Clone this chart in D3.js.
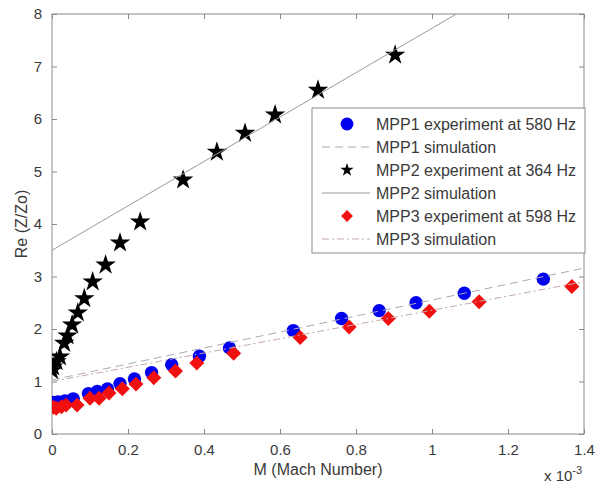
<!DOCTYPE html>
<html>
<head>
<meta charset="utf-8">
<script src="https://cdn.jsdelivr.net/npm/d3@7"></script>
<style>
  html, body { margin: 0; padding: 0; background: #fff; }
  svg { display: block; font-family: "Liberation Sans", Arial, sans-serif; }
</style>
</head>
<body>
<div id="chart"></div>
<script>
// Mach number values are in units of 1e-3
const mpp1M = [0.003, 0.016, 0.034, 0.056, 0.096, 0.119, 0.146, 0.179, 0.217, 0.262, 0.315, 0.388, 0.467, 0.635, 0.762, 0.861, 0.958, 1.085, 1.293];
const mpp1Re = [0.60, 0.61, 0.63, 0.67, 0.77, 0.81, 0.86, 0.96, 1.05, 1.17, 1.32, 1.48, 1.64, 1.97, 2.20, 2.35, 2.50, 2.68, 2.95];

const mpp2M = [0.0, 0.003, 0.012, 0.021, 0.032, 0.041, 0.053, 0.068, 0.085, 0.107, 0.141, 0.179, 0.232, 0.345, 0.434, 0.508, 0.587, 0.700, 0.903];
const mpp2Re = [1.21, 1.28, 1.38, 1.47, 1.73, 1.87, 2.08, 2.31, 2.58, 2.90, 3.22, 3.64, 4.04, 4.84, 5.37, 5.73, 6.08, 6.55, 7.22];

const mpp3M = [0.004, 0.011, 0.025, 0.037, 0.066, 0.100, 0.124, 0.150, 0.185, 0.221, 0.268, 0.325, 0.381, 0.478, 0.653, 0.782, 0.885, 0.993, 1.124, 1.368];
const mpp3Re = [0.51, 0.49, 0.52, 0.55, 0.55, 0.68, 0.68, 0.78, 0.86, 0.95, 1.07, 1.20, 1.35, 1.54, 1.84, 2.04, 2.20, 2.34, 2.52, 2.81];

// simulation lines (end points)
const simM = [0, 1.4];
const mpp1SimRe = [1.03, 3.16];
const mpp2SimRe = [3.5, 9.42];
const mpp3SimRe = [1.0, 2.9];

const xTicks = [0, 0.2, 0.4, 0.6, 0.8, 1, 1.2, 1.4];
const yTicks = [0, 1, 2, 3, 4, 5, 6, 7, 8];

const legendLabels = [
  "MPP1 experiment at 580 Hz",
  "MPP1 simulation",
  "MPP2 experiment at 364 Hz",
  "MPP2 simulation",
  "MPP3 experiment at 598 Hz",
  "MPP3 simulation"
];

const W = 595, H = 486;
const margin = { top: 14, right: 11, bottom: 52, left: 52 };
const iW = W - margin.left - margin.right;
const iH = H - margin.top - margin.bottom;

const axisColor = "#8a8a8a";
const textColor = "#3a3a3a";
const sim1Color = "#a9a9b4";
const sim2Color = "#9a9a9a";
const sim3Color = "#c4a8a8";

const svg = d3.select("#chart").append("svg").attr("width", W).attr("height", H);
const g = svg.append("g").attr("transform", `translate(${margin.left},${margin.top})`);

const x = d3.scaleLinear().domain([0, 1.4]).range([0, iW]);
const y = d3.scaleLinear().domain([0, 8]).range([iH, 0]);

svg.append("defs").append("clipPath").attr("id", "clip")
  .append("rect").attr("width", iW).attr("height", iH);

// Axes (ticks inside, box on)
function styleAxis(sel) {
  sel.select(".domain").remove();
  sel.selectAll("line").attr("stroke", axisColor);
  sel.selectAll("text").attr("fill", textColor).style("font-size", "15px");
}
g.append("g").attr("transform", `translate(0,${iH})`)
  .call(d3.axisBottom(x).tickValues(xTicks).tickSize(-5).tickPadding(10).tickFormat(d3.format("~g")))
  .call(styleAxis);
g.append("g")
  .call(d3.axisTop(x).tickValues(xTicks).tickSize(-5).tickFormat(""))
  .call(styleAxis);
g.append("g")
  .call(d3.axisLeft(y).tickValues(yTicks).tickSize(-5).tickPadding(10).tickFormat(d3.format("d")))
  .call(styleAxis);
g.append("g").attr("transform", `translate(${iW},0)`)
  .call(d3.axisRight(y).tickValues(yTicks).tickSize(-5).tickFormat(""))
  .call(styleAxis);
g.append("rect").attr("width", iW).attr("height", iH)
  .attr("fill", "none").attr("stroke", axisColor).attr("stroke-width", 1);

const plot = g.append("g").attr("clip-path", "url(#clip)");

const line = d3.line().x(d => x(d[0])).y(d => y(d[1]));
const zip = (a, b) => a.map((v, i) => [v, b[i]]);

const circle = d3.symbol().type(d3.symbolCircle).size(140);
const star = d3.symbol().type(d3.symbolStar).size(130);
const diamond = d3.symbol().type(d3.symbolSquare).size(112);

function drawMarkers(data, sym, color, rot) {
  plot.append("g").selectAll("path").data(data).join("path")
    .attr("d", sym)
    .attr("transform", d => `translate(${x(d[0])},${y(d[1])}) rotate(${rot})`)
    .attr("fill", color);
}
function drawLine(data, color, dash) {
  plot.append("path").datum(data)
    .attr("d", line)
    .attr("fill", "none")
    .attr("stroke", color)
    .attr("stroke-width", 1)
    .attr("stroke-dasharray", dash);
}

drawMarkers(zip(mpp1M, mpp1Re), circle, "#0000f0", 0);
drawLine(zip(simM, mpp1SimRe), sim1Color, "8,5");
drawMarkers(zip(mpp2M, mpp2Re), star, "#000", 0);
drawLine(zip(simM, mpp2SimRe), sim2Color, null);
drawMarkers(zip(mpp3M, mpp3Re), diamond, "#f01010", 45);
drawLine(zip(simM, mpp3SimRe), sim3Color, "7,3,2,3");

// Axis labels
svg.append("text")
  .attr("x", margin.left + iW / 2).attr("y", 475)
  .attr("text-anchor", "middle").attr("fill", textColor)
  .style("font-size", "16px").text("M (Mach Number)");
svg.append("text")
  .attr("transform", `translate(27,${margin.top + iH / 2}) rotate(-90)`)
  .attr("text-anchor", "middle").attr("fill", textColor)
  .style("font-size", "16px").text("Re (Z/Zo)");
const sci = svg.append("text").attr("x", 544).attr("y", 481)
  .attr("fill", textColor).style("font-size", "15px");
sci.append("tspan").text("x 10");
sci.append("tspan").attr("dy", -7).style("font-size", "11px").text("-3");

// Legend
const lg = svg.append("g");
lg.append("rect").attr("x", 312).attr("y", 108).attr("width", 273).attr("height", 145)
  .attr("fill", "#fff").attr("stroke", axisColor);
const rows = legendLabels.map((t, i) => ({ t, i, cy: 124 + i * 23 }));
rows.forEach(r => {
  lg.append("text").attr("x", 376).attr("y", r.cy + 5.5)
    .attr("fill", textColor).style("font-size", "16px").text(r.t);
});
const symLeg = [
  [0, d3.symbol().type(d3.symbolCircle).size(130), "#0000f0", 0],
  [2, d3.symbol().type(d3.symbolStar).size(55), "#000", 0],
  [4, d3.symbol().type(d3.symbolSquare).size(70), "#f01010", 45]
];
symLeg.forEach(([i, s, c, rot]) => {
  lg.append("path").attr("d", s)
    .attr("transform", `translate(347,${rows[i].cy}) rotate(${rot})`)
    .attr("fill", c);
});
[[1, sim1Color, "8,5"], [3, sim2Color, null], [5, sim3Color, "7,3,2,3"]].forEach(([i, c, dash]) => {
  lg.append("line").attr("x1", 322).attr("x2", 370)
    .attr("y1", rows[i].cy).attr("y2", rows[i].cy)
    .attr("stroke", c).attr("stroke-dasharray", dash);
});
</script>
</body>
</html>
